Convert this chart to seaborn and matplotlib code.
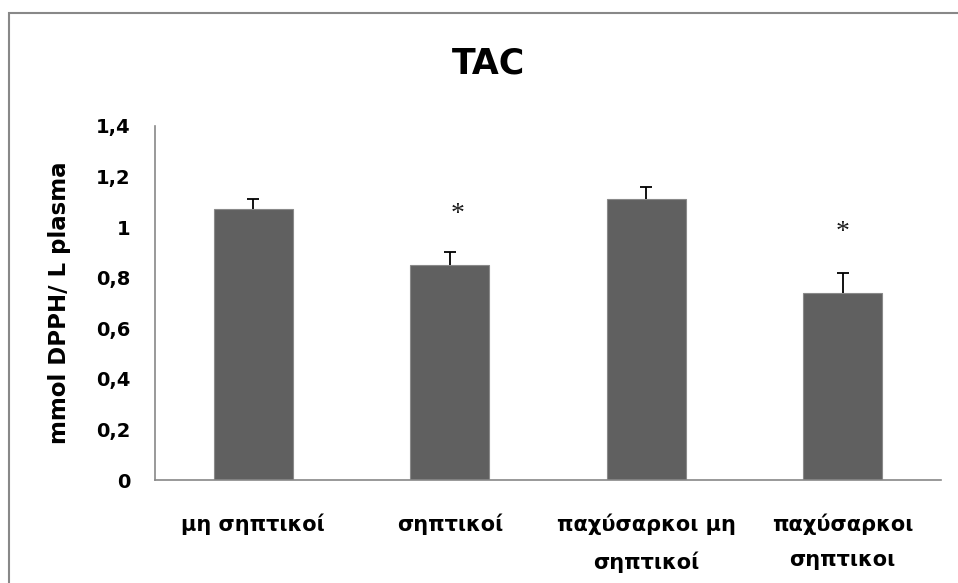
import matplotlib
matplotlib.use("Agg")
import matplotlib.pyplot as plt
from matplotlib.patches import Rectangle
import seaborn as sns
import pandas as pd
import numpy as np

groups = ["μη σηπτικοί", "σηπτικοί", "παχύσαρκοι μη\nσηπτικοί", "παχύσαρκοι\nσηπτικοι"]
tac = [1.07, 0.85, 1.11, 0.74]
sem = [0.04, 0.05, 0.05, 0.08]
star_y = [None, 1.05, None, 0.98]
yticks = [0, 0.2, 0.4, 0.6, 0.8, 1.0, 1.2, 1.4]
ytick_labels = ["0", "0,2", "0,4", "0,6", "0,8", "1", "1,2", "1,4"]

sns.set_style("white")
plt.rcParams["font.family"] = ["DejaVu Sans"]
plt.rcParams["text.color"] = "black"
plt.rcParams["axes.labelcolor"] = "black"
plt.rcParams["xtick.color"] = "black"
plt.rcParams["ytick.color"] = "black"

df = pd.DataFrame({"group": groups, "tac": tac})

fig = plt.figure(figsize=(9.58, 5.83), dpi=100)
ax = fig.add_axes([155 / 958, 1 - 480 / 583, (941 - 155) / 958, (480 - 126) / 583])

sns.barplot(data=df, x="group", y="tac", color="#606060", saturation=1,
            width=0.4, errorbar=None, edgecolor="#8a8a8a", linewidth=0.8, ax=ax)

# upper-only error bars (SEM)
xs = list(range(len(groups)))
eb = ax.errorbar(xs, tac, yerr=[[0] * len(sem), sem], fmt="none", ecolor="black",
                 elinewidth=1.3, capsize=4.3, capthick=1.3, zorder=3)
for cap in eb[1]:
    if np.allclose(cap.get_ydata(), tac):
        cap.set_visible(False)

for i, y in enumerate(star_y):
    if y is not None:
        dx = 0.04 if i == 1 else 0.0
        ax.text(i + dx, y, "*", ha="center", va="center", fontsize=20,
                family="Liberation Serif", color="#1a1a1a")

ax.set_ylim(0, 1.4)
ax.set_xlim(-0.5, 3.5)
ax.set_yticks(yticks)
ax.set_yticklabels(ytick_labels, fontsize=14, fontweight="bold")
ax.set_xticks(xs)
ax.set_xticklabels(groups, fontsize=15, fontweight="bold", linespacing=1.95)
ax.tick_params(axis="y", direction="out", length=6.5, width=1,
               color="#888888", labelcolor="black", pad=11)
ax.tick_params(axis="x", length=0, pad=24, labelcolor="black")
ax.set_xlabel("")
ax.set_ylabel("mmol DPPH/ L plasma", fontsize=16.5, fontweight="bold",
              labelpad=18, color="black")

for side in ["top", "right"]:
    ax.spines[side].set_visible(False)
for side in ["left", "bottom"]:
    ax.spines[side].set_color("#888888")
    ax.spines[side].set_linewidth(1.2)

fig.text(488 / 958, 1 - 63 / 583, "TAC", ha="center", va="center",
         fontsize=25, fontweight="bold", color="black")

# chart-area frame
fig.patches.append(Rectangle((9 / 958, -0.1), 1.2, 1 - 13 / 583 + 0.1,
                             transform=fig.transFigure, fill=False,
                             edgecolor="#888888", linewidth=1.5))

fig.savefig("out.png", dpi=100)
